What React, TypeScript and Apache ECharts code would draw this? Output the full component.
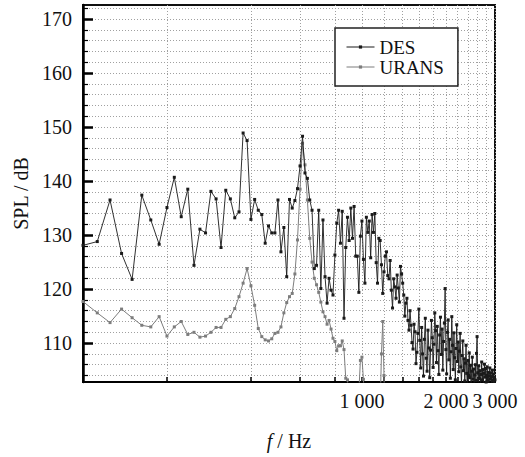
import React, { useEffect, useRef } from "react";
import * as echarts from "echarts";

// Frequency grid: first frequency and constant spacing (Hz)
const freqStart = 100;
const freqStep = 12.5;

// Axis ticks
const xTickFreqs = [200, 400, 600, 800, 1000, 1200, 1400, 1600, 1800, 2000, 2200, 2400, 2600, 2800, 3000];
const xLabelFreqs = [1000, 2000, 3000];
const yMajorTicks = [110, 120, 130, 140, 150, 160, 170];
const yMinorTicks = [104, 106, 108, 110, 112, 114, 116, 118, 120, 122, 124, 126, 128, 130, 132, 134, 136, 138, 140, 142, 144, 146, 148, 150, 152, 154, 156, 158, 160, 162, 164, 166, 168, 170, 172];

// DES SPL (dB), one value per frequency step starting at 100 Hz
const desSPL = [
  128.1, 128.8, 136.5, 126.6, 121.8, 137.4, 132.8, 128.3, 135.1, 140.7,
  133.4, 138.5, 124.4, 131.1, 130.4, 138.1, 136.7, 127.7, 138.3, 136.7,
  133.2, 134.3, 148.9, 147.5, 132.9, 136.6, 134.6, 133.8, 128.5, 131.7,
  130.4, 130.4, 136.5, 126.9, 131.4, 122.3, 136.6, 135.0, 136.4, 138.6,
  142.8, 148.3, 141.5, 140.5, 136.5, 134.6, 123.8, 124.4, 134.6, 120.1,
  132.8, 122.3, 117.4, 122.0, 119.8, 118.9, 126.3, 132.2, 134.6, 128.5,
  134.4, 114.6, 127.7, 133.3, 129.0, 135.0, 129.4, 135.3, 126.1, 126.1,
  119.4, 129.8, 132.6, 125.5, 121.1, 133.3, 130.5, 132.6, 125.8, 133.8,
  130.5, 134.0, 124.9, 121.1, 129.4, 129.0, 124.5, 119.2, 123.2, 126.1,
  126.9, 122.5, 121.9, 125.3, 119.8, 116.5, 121.9, 120.4, 118.3, 122.6,
  120.2, 117.6, 124.2, 122.8, 121.1, 118.9, 115.0, 117.4, 118.3, 114.2,
  112.4, 116.0, 113.3, 110.1, 108.9, 113.5, 112.1, 106.2, 108.3, 111.8,
  116.3, 110.5, 105.4, 112.9, 108.0, 103.9, 110.7, 114.6, 107.2, 104.8,
  112.4, 109.1, 103.6, 108.7, 114.2, 111.0, 105.5, 109.8, 115.6, 112.3,
  106.4, 113.1, 108.6, 104.2, 111.5, 114.8, 107.9, 112.6, 105.0, 110.3,
  113.7, 120.1, 108.8, 104.3, 112.0, 114.3, 106.9, 110.7, 103.5, 108.4,
  114.9, 109.6, 105.1, 111.9, 107.3, 103.2, 109.0, 113.4, 106.6, 110.2,
  104.7, 108.5, 111.8, 105.6, 102.4, 107.7, 110.4, 104.9, 107.1, 103.0,
  106.3, 109.6, 104.4, 102.1, 106.8, 104.0, 108.2, 103.6, 105.9, 102.5,
  104.8, 107.4, 103.3, 105.2, 102.6, 104.1, 106.0, 103.1, 108.1, 111.2,
  104.5, 102.7, 105.8, 103.4, 104.9, 102.3, 104.2, 106.5, 103.2, 105.1,
  102.5, 104.4, 106.1, 103.7, 105.3, 102.8, 104.0, 105.6, 103.0, 104.6,
  102.4, 103.9, 105.4, 103.3, 104.5, 102.6, 103.8, 105.0, 103.1, 104.3,
  102.9, 103.6, 103.2,
];

// URANS SPL (dB), same frequency grid starting at 100 Hz
const uransSPL = [
  117.7, 115.6, 113.8, 116.3, 114.7, 113.3, 113.0, 114.9, 111.3, 113.0,
  114.0, 111.6, 112.0, 111.1, 111.3, 112.0, 112.9, 112.9, 114.4, 114.9,
  116.4, 118.6, 121.1, 123.8, 120.6, 117.0, 112.7, 111.2, 110.6, 110.4,
  110.8, 111.8, 112.0, 113.0, 115.6, 117.5, 118.6, 119.2, 122.8, 129.1,
  138.5, 147.0, 143.0, 136.5, 129.4, 125.0, 122.0, 120.8, 119.4, 117.6,
  115.8, 114.9, 113.5, 114.2, 112.6, 110.9, 110.3, 108.6, 109.5, 109.5,
  110.4, 108.8, 103.5, 103.2, 98.0, 95.0, 93.0, 94.0, 95.0, 97.0,
  101.0, 106.8, 107.4, 103.3, 98.0, 94.0, 92.0, 91.0, 92.0, 93.0,
  92.0, 91.0, 92.0, 93.0, 92.0, 98.0, 108.0, 114.0, 104.0, 95.0,
  92.0,
];

const FONT = '"Liberation Serif", "Times New Roman", serif';

const fmtThousands = (n: number) => String(n).replace(/\B(?=(\d{3})+(?!\d))/g, " ");
const toPoints = (vals: number[]) => vals.map((v, i) => [Math.log10(freqStart + freqStep * i), v]);

export default function App() {
  const ref = useRef<HTMLDivElement>(null);
  useEffect(() => {
    if (!ref.current) return;
    const chart = echarts.init(ref.current, undefined, { renderer: "svg" });
    const yBase = {
      type: "value" as const,
      min: 102.8,
      max: 172.6,
      position: "left" as const,
    };
    chart.setOption({
      animation: false,
      backgroundColor: "#fff",
      grid: {
        left: 83,
        right: 30,
        top: 5,
        bottom: 75,
        show: true,
        borderColor: "#111",
        borderWidth: 2,
        backgroundColor: "transparent",
      },
      legend: {
        orient: "vertical",
        left: 335,
        top: 28,
        padding: [9, 14, 9, 11],
        borderColor: "#222",
        borderWidth: 1.5,
        borderRadius: 0,
        backgroundColor: "#fff",
        itemWidth: 28,
        itemHeight: 4,
        itemGap: 0,
        itemStyle: { borderWidth: 0 },
        lineStyle: { width: 1 },
        textStyle: { fontFamily: FONT, fontSize: 19, color: "#111", lineHeight: 20 },
        data: ["DES", "URANS"],
      },
      xAxis: {
        type: "value",
        min: 2,
        max: Math.log10(3000),
        axisLine: { show: true, lineStyle: { color: "#000", width: 2 } },
        axisTick: {
          show: true,
          inside: true,
          length: 5,
          customValues: xTickFreqs.map((f) => Math.log10(f)),
          lineStyle: { color: "#000", width: 1.5 },
        },
        axisLabel: {
          customValues: xLabelFreqs.map((f) => Math.log10(f)),
          formatter: (v: number) => fmtThousands(Math.round(Math.pow(10, v))),
          fontFamily: FONT,
          fontSize: 20,
          color: "#111",
          margin: 9,
        },
        splitLine: { show: true, lineStyle: { color: "#a0a0a0", type: [1, 2], width: 1 } },
        name: "{i|f} / Hz",
        nameLocation: "middle",
        nameGap: 49,
        nameTextStyle: {
          fontFamily: FONT,
          fontSize: 20,
          color: "#111",
          rich: { i: { fontFamily: FONT, fontSize: 20, fontStyle: "italic", color: "#111" } },
        },
      },
      yAxis: [
        {
          ...yBase,
          axisLine: { show: true, lineStyle: { color: "#000", width: 2.5 } },
          axisTick: {
            show: true,
            inside: true,
            length: 10,
            customValues: yMajorTicks,
            lineStyle: { color: "#000", width: 2.5 },
          },
          axisLabel: {
            customValues: yMajorTicks,
            fontFamily: FONT,
            fontSize: 20,
            color: "#111",
            margin: 11,
          },
          splitLine: { show: false },
          name: "SPL / dB",
          nameLocation: "middle",
          nameGap: 52,
          nameTextStyle: { fontFamily: FONT, fontSize: 20, color: "#111" },
        },
        {
          ...yBase,
          axisLine: { show: false },
          axisTick: {
            show: true,
            inside: true,
            length: 5,
            customValues: yMinorTicks,
            lineStyle: { color: "#000", width: 1.2 },
          },
          axisLabel: { show: false },
          splitLine: { show: true, lineStyle: { color: "#a0a0a0", type: [1, 2], width: 1 } },
        },
      ],
      series: [
        {
          name: "URANS",
          type: "line",
          yAxisIndex: 0,
          data: toPoints(uransSPL),
          symbol: "rect",
          symbolSize: 3,
          showSymbol: true,
          clip: true,
          lineStyle: { color: "#7d7d7d", width: 1 },
          itemStyle: { color: "#7d7d7d" },
          z: 2,
        },
        {
          name: "DES",
          type: "line",
          yAxisIndex: 0,
          data: toPoints(desSPL),
          symbol: "rect",
          symbolSize: 3,
          showSymbol: true,
          clip: true,
          lineStyle: { color: "#1a1a1a", width: 0.9 },
          itemStyle: { color: "#1a1a1a" },
          z: 3,
        },
      ],
    });
    return () => chart.dispose();
  }, []);
  return (
    <div
      ref={ref}
      style={{ position: "fixed", left: 0, top: 0, width: 525, height: 457, background: "#fff" }}
    />
  );
}
